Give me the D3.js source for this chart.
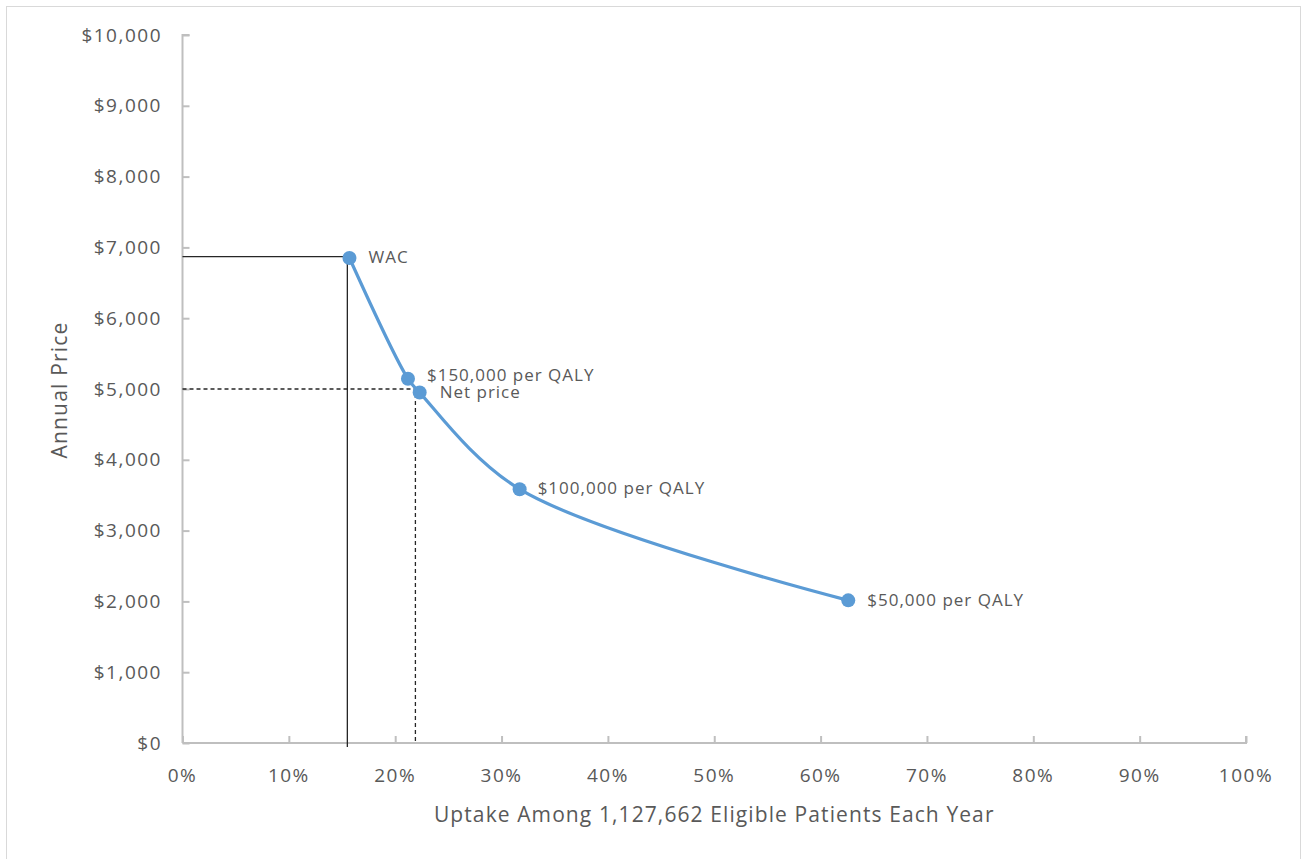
<!DOCTYPE html>
<html>
<head>
<meta charset="utf-8">
<script src="https://cdn.jsdelivr.net/npm/d3@7"></script>
<style>
  html, body { margin: 0; padding: 0; background: #fff; }
  svg { display: block; }
  text { font-family: "Open Sans", "Noto Sans", sans-serif; fill: #595959; }
</style>
</head>
<body>
<svg id="chart" width="1303" height="859"></svg>
<script>
// Price points along the uptake curve
const pointLabels = ["WAC", "$150,000 per QALY", "Net price", "$100,000 per QALY", "$50,000 per QALY"];
const uptake      = [0.157, 0.212, 0.223, 0.317, 0.626];
const price       = [6850, 5145, 4950, 3585, 2015];

// Reference guides: WAC (solid) and net price (dashed)
const wacGuide = { uptake: 0.155, price: 6870 };
const netGuide = { uptake: 0.219, price: 5000 };

// Axis ticks
const xTicks = [0, 0.1, 0.2, 0.3, 0.4, 0.5, 0.6, 0.7, 0.8, 0.9, 1.0];
const yTicks = [0, 1000, 2000, 3000, 4000, 5000, 6000, 7000, 8000, 9000, 10000];

const xTitle = "Uptake Among 1,127,662 Eligible Patients Each Year";
const yTitle = "Annual Price";

const svg = d3.select("#chart");
const margin = { left: 182.5, right: 1303 - 1246, top: 35, bottom: 859 - 743 };
const W = 1303, H = 859;

// outer frame
svg.append("rect")
  .attr("x", 6.5).attr("y", 6.5)
  .attr("width", 1294).attr("height", 860)
  .attr("fill", "none").attr("stroke", "#d9d9d9").attr("stroke-width", 1);

const x = d3.scaleLinear().domain([0, 1]).range([margin.left, W - margin.right]);
const y = d3.scaleLinear().domain([0, 10000]).range([H - margin.bottom, margin.top]);

const axisColor = "#bfbfbf";

// Y axis (ticks point inward)
const yAxis = svg.append("g")
  .attr("transform", `translate(${x(0)},0)`)
  .call(d3.axisRight(y).tickValues(yTicks).tickSize(7).tickFormat(""));
yAxis.select(".domain").attr("stroke", axisColor).attr("stroke-width", 2)
  .attr("d", `M7,${y(10000)}H0V${y(0)}`);
yAxis.selectAll(".tick line").attr("stroke", axisColor).attr("stroke-width", 2);

svg.append("g").selectAll("text")
  .data(yTicks).join("text")
  .attr("x", 162).attr("y", d => y(d))
  .attr("dy", "0.35em")
  .attr("text-anchor", "end")
  .attr("font-size", 19)
  .attr("letter-spacing", 1.5)
  .text(d => "$" + d3.format(",")(d));

// X axis (ticks point upward)
const xAxis = svg.append("g")
  .attr("transform", `translate(0,${y(0)})`)
  .call(d3.axisTop(x).tickValues(xTicks).tickSize(7).tickFormat(""));
xAxis.select(".domain").attr("stroke", axisColor).attr("stroke-width", 2)
  .attr("d", `M${x(0)},0H${x(1)}V-7`);
xAxis.selectAll(".tick line").attr("stroke", axisColor).attr("stroke-width", 2);

svg.append("g").selectAll("text")
  .data(xTicks).join("text")
  .attr("x", d => x(d)).attr("y", y(0) + 32)
  .attr("dy", "0.35em")
  .attr("text-anchor", "middle")
  .attr("font-size", 19)
  .attr("letter-spacing", 1.5)
  .text(d => d3.format(".0%")(d));

// Axis titles
svg.append("text")
  .attr("x", x(0.5)).attr("y", 815).attr("dy", "0.35em")
  .attr("text-anchor", "middle").attr("font-size", 21)
  .attr("letter-spacing", 1.1)
  .text(xTitle);

svg.append("text")
  .attr("transform", `translate(60,390) rotate(-90)`)
  .attr("dy", "0.35em")
  .attr("text-anchor", "middle").attr("font-size", 21)
  .attr("letter-spacing", 1.2)
  .text(yTitle);

// Guide lines
const guides = svg.append("g").attr("stroke", "#262626").attr("stroke-width", 1.3).attr("fill", "none");
guides.append("path")
  .attr("d", `M${x(0)},${y(wacGuide.price)}H${x(wacGuide.uptake)}V${y(0) + 4}`);
guides.append("path")
  .attr("stroke-dasharray", "4,3")
  .attr("d", `M${x(0)},${y(netGuide.price)}H${x(netGuide.uptake)}V${y(0)}`);

// Curve
const pts = uptake.map((u, i) => ({ u, p: price[i], label: pointLabels[i] }));
const line = d3.line().x(d => x(d.u)).y(d => y(d.p)).curve(d3.curveCatmullRom.alpha(0.5));
svg.append("path")
  .datum(pts)
  .attr("d", line)
  .attr("fill", "none")
  .attr("stroke", "#5b9bd5")
  .attr("stroke-width", 3.2);

svg.append("g").selectAll("circle")
  .data(pts).join("circle")
  .attr("cx", d => x(d.u)).attr("cy", d => y(d.p))
  .attr("r", 7)
  .attr("fill", "#5b9bd5");

// Point labels
const labelOffsets = [
  { dx: 19, dy: -1 },
  { dx: 19, dy: -4 },
  { dx: 20, dy: 0 },
  { dx: 18, dy: -1 },
  { dx: 19, dy: 0 }
];
svg.append("g").selectAll("text")
  .data(pts).join("text")
  .attr("x", (d, i) => x(d.u) + labelOffsets[i].dx)
  .attr("y", (d, i) => y(d.p) + labelOffsets[i].dy)
  .attr("dy", "0.35em")
  .attr("font-size", 17)
  .attr("letter-spacing", 1)
  .text(d => d.label);
</script>
</body>
</html>
